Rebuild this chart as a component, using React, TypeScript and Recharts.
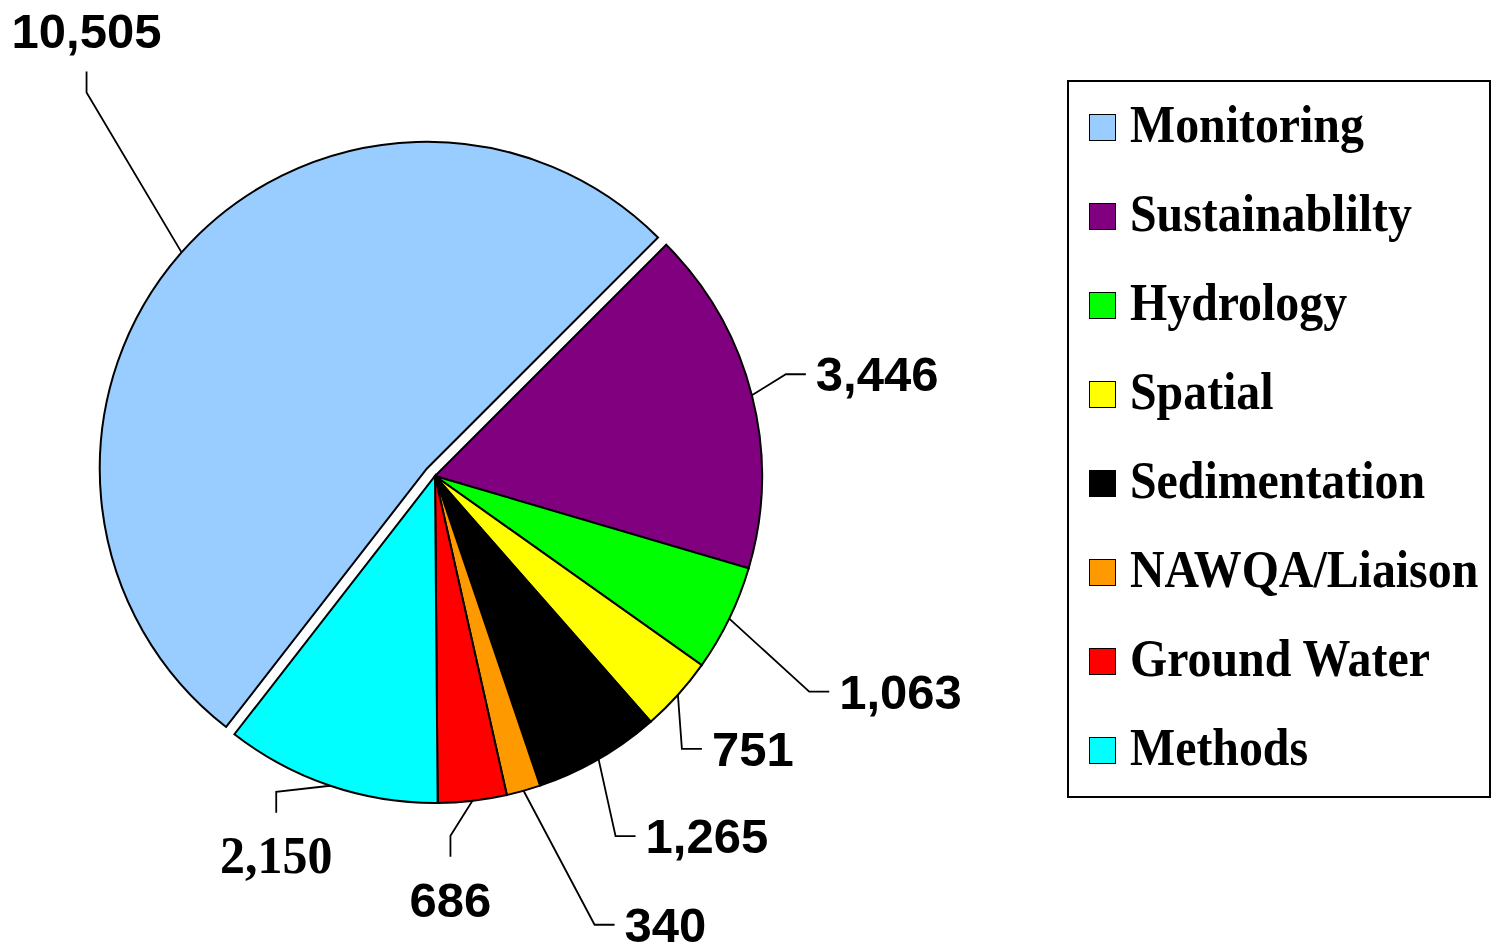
import { PieChart, Pie, Cell, Legend } from 'recharts'

const CATEGORIES = [
  'Monitoring',
  'Sustainablilty',
  'Hydrology',
  'Spatial',
  'Sedimentation',
  'NAWQA/Liaison',
  'Ground Water',
  'Methods',
]
const VALUES = [10505, 3446, 1063, 751, 1265, 340, 686, 2150]
const COLORS = ['#99CCFF', '#800080', '#00FF00', '#FFFF00', '#000000', '#FF9900', '#FF0000', '#00FFFF']

const data = CATEGORIES.map((name, i) => ({ name, value: VALUES[i] }))
const TOTAL = VALUES.reduce((a, b) => a + b, 0)

// geometry
const CX = 435
const CY = 476
const R = 327
const START = 232.16
const EXPLODE = 11
const RAD = Math.PI / 180
const explodeMid = START - (VALUES[0] / TOTAL) * 180
const EX_CX = CX + EXPLODE * Math.cos(explodeMid * RAD)
const EX_CY = CY - EXPLODE * Math.sin(explodeMid * RAD)

// leader line elbows, relative to where the line leaves the slice
const LABEL_LAYOUT = [
  { dx: -95, dy: -160, dir: 'up' },
  { dx: 34, dy: -21, dir: 'right' },
  { dx: 80, dy: 73, dir: 'right' },
  { dx: 4, dy: 54, dir: 'right' },
  { dx: 17, dy: 77, dir: 'right' },
  { dx: 71, dy: 134, dir: 'right' },
  { dx: -22, dy: 35, dir: 'down' },
  { dx: -54, dy: 6, dir: 'down', serif: true },
]

const sansLabel = { fontFamily: '"Liberation Sans", Arial, sans-serif', fontWeight: 700, fontSize: 49, fill: '#000' }
const serifLabel = { fontFamily: '"Liberation Serif", "Times New Roman", serif', fontWeight: 700, fontSize: 52, fill: '#000' }

function makeLabel(only: (i: number) => boolean) {
  return (props: any) => {
    const { cx, cy, midAngle, outerRadius, index, value } = props
    if (!only(index)) return null
    const lay = LABEL_LAYOUT[index]
    const sx = cx + outerRadius * Math.cos(-midAngle * RAD)
    const sy = cy + outerRadius * Math.sin(-midAngle * RAD)
    const ex = sx + lay.dx
    const ey = sy + lay.dy
    let lx = ex, ly = ey, tx = ex, ty = ey, anchor = 'middle'
    if (lay.dir === 'right') {
      lx = ex + 20; tx = ex + 30; ty = ey + 17; anchor = 'start'
    } else if (lay.dir === 'up') {
      ly = ey - 21; ty = ey - 44
    } else {
      ly = ey + 21; ty = ey + 81
    }
    const text = Number(value).toLocaleString('en-US')
    return (
      <g key={`lbl-${index}`}>
        <polyline
          points={`${sx},${sy} ${ex},${ey} ${lx},${ly}`}
          fill="none"
          stroke="#000"
          strokeWidth={1.8}
        />
        {lay.serif ? (
          <text transform={`translate(${tx},${ty}) scale(0.96,1)`} x={0} y={0} textAnchor={anchor} style={serifLabel}>
            {text}
          </text>
        ) : (
          <text x={tx} y={ty} textAnchor={anchor} style={sansLabel}>
            {text}
          </text>
        )}
      </g>
    )
  }
}

function LegendBox() {
  return (
    <div
      style={{
        width: 424,
        height: 718,
        boxSizing: 'border-box',
        border: '2px solid #000',
        background: '#fff',
        paddingTop: 1,
        paddingLeft: 20,
      }}
    >
      {CATEGORIES.map((name, i) => (
        <div key={name} style={{ height: 89, display: 'flex', alignItems: 'center' }}>
          <div
            style={{
              width: 27,
              height: 27,
              boxSizing: 'border-box',
              border: '1.5px solid #000',
              background: COLORS[i],
              flex: 'none',
            }}
          />
          <span
            style={{
              marginLeft: 14,
              position: 'relative',
              top: -3,
              display: 'inline-block',
              transform: 'scaleX(0.92)',
              transformOrigin: 'left center',
              whiteSpace: 'nowrap',
              fontFamily: '"Liberation Serif", "Times New Roman", serif',
              fontWeight: 700,
              fontSize: 52,
              lineHeight: 1.15,
              color: '#000',
            }}
          >
            {name}
          </span>
        </div>
      ))}
    </div>
  )
}

export default function App() {
  return (
    <div style={{ position: 'absolute', left: 0, top: 0, width: 1496, height: 946, background: '#fff' }}>
      <PieChart width={1496} height={946} margin={{ top: 0, right: 0, bottom: 0, left: 0 }}>
        <Pie
          data={data}
          dataKey="value"
          nameKey="name"
          cx={CX}
          cy={CY}
          outerRadius={R}
          startAngle={START}
          endAngle={START - 360}
          stroke="#000"
          strokeWidth={2}
          labelLine={false}
          label={makeLabel(i => i !== 0)}
          isAnimationActive={false}
        >
          {data.map((d, i) => (
            <Cell key={d.name} fill={i === 0 ? 'none' : COLORS[i]} stroke={i === 0 ? 'none' : '#000'} />
          ))}
        </Pie>
        <Pie
          data={data}
          dataKey="value"
          nameKey="name"
          cx={EX_CX}
          cy={EX_CY}
          outerRadius={R}
          startAngle={START}
          endAngle={START - 360}
          stroke="#000"
          strokeWidth={2}
          labelLine={false}
          label={makeLabel(i => i === 0)}
          legendType="none"
          isAnimationActive={false}
        >
          {data.map((d, i) => (
            <Cell key={d.name} fill={i === 0 ? COLORS[0] : 'none'} stroke={i === 0 ? '#000' : 'none'} />
          ))}
        </Pie>
        <Legend
          layout="vertical"
          align="right"
          verticalAlign="top"
          wrapperStyle={{ left: 1067, top: 80, width: 424, height: 718 }}
          content={() => <LegendBox />}
        />
      </PieChart>
    </div>
  )
}
